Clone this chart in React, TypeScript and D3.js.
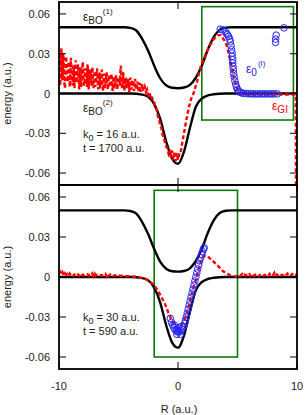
import React from "react";
import * as d3 from "d3";

type P = [number, number];

const xTicks = [-10, 0, 10];
const yTicks = [-0.06, -0.03, 0, 0.03, 0.06];
const yTickLabels = ["-0.06", "-0.03", "0", "0.03", "0.06"];

// Born-Oppenheimer surfaces
const eBO1: P[] = [[-10,0.05],[-4.5,0.05],[-4,0.0495],[-3.5,0.0475],[-3,0.041],[-2.5,0.032],[-2,0.021],[-1.5,0.0115],[-1,0.0062],[-0.5,0.0043],[0,0.004],[0.5,0.0045],[1,0.0065],[1.5,0.012],[2,0.021],[2.5,0.033],[3,0.0425],[3.5,0.048],[4,0.0497],[4.5,0.05],[10,0.05]];
const eBO2: P[] = [[-10,0],[-4,0],[-3,-0.0008],[-2.5,-0.0025],[-2,-0.008],[-1.5,-0.019],[-1,-0.036],[-0.5,-0.049],[0,-0.053],[0.5,-0.044],[1,-0.026],[1.5,-0.010],[2,-0.0038],[2.5,-0.0015],[3,-0.0006],[4,0],[10,0]];

// top panel (k0 = 16, t = 1700)
const giTopNoise: number[] = [0.030,0.006,0.034,0.010,0.026,0.004,0.028,0.012,0.024,0.005,0.027,0.009,0.021,0.004,0.025,0.011,0.022,0.003,0.020,0.008,0.024,0.006,0.019,0.010,0.022,0.003,0.018,0.007,0.020,0.004,0.017,0.009,0.019,0.003,0.016,0.006,0.018,0.002,0.015,0.007,0.016,0.003,0.014,0.006,0.015,0.002,0.013,0.005,0.014,0.003,0.012,0.006,0.021,0.004,0.016,0.002,0.012,0.005,0.011,0.001,0.012,0.004,0.010,0.002,0.011,0.003,0.009,0.001,0.008,0.002,0.007];
const giTopNoiseR0 = -10;
const giTopNoise2: number[] = [0.018,0.022,0.012,0.030,0.008,0.020,0.015,0.009,0.022,0.013,0.017,0.006,0.019,0.014,0.008,0.018,0.010,0.015,0.005,0.017,0.012,0.009,0.016,0.005,0.014,0.011,0.016,0.006,0.013,0.010,0.005,0.014,0.009,0.012,0.004,0.013,0.008,0.011,0.004,0.012,0.009,0.007,0.011,0.005,0.010,0.008,0.004,0.010,0.007,0.009,0.012,0.016,0.010,0.008,0.006,0.010,0.004,0.008,0.006,0.009,0.003,0.007,0.005,0.008,0.003,0.006,0.004,0.006,0.002,0.005];
const giTopNoise2R0 = -9.95;
const giTopNoiseStep = 0.1;
const giTopRest: P[] = [[-2.9,0.002],[-2.8,0.005],[-2.7,0.001],[-2.6,0.003],[-2.5,-0.001],[-2.4,0.001],[-2.3,-0.003],[-2.2,-0.002],[-2.1,-0.006],[-2.0,-0.006],[-1.9,-0.011],[-1.8,-0.012],[-1.7,-0.017],[-1.6,-0.019],[-1.5,-0.024],[-1.4,-0.026],[-1.3,-0.031],[-1.2,-0.033],[-1.1,-0.037],[-1.0,-0.040],[-0.9,-0.041],[-0.8,-0.045],[-0.7,-0.042],[-0.6,-0.048],[-0.5,-0.043],[-0.4,-0.050],[-0.3,-0.044],[-0.2,-0.051],[-0.1,-0.045],[0.0,-0.050],[0.1,-0.046],[0.2,-0.046],[0.3,-0.040],[0.5,-0.030],[0.7,-0.020],[0.9,-0.011],[1.1,-0.004],[1.3,0.0],[1.6,0.009],[1.9,0.020],[2.2,0.027],[2.6,0.035],[3.0,0.041],[3.4,0.044],[3.6,0.044],[3.9,0.040],[4.1,0.036],[4.4,0.025],[4.7,0.012],[5.0,0.003],[5.2,0.0002],[5.5,-0.0006],[6,-0.0008],[7,-0.0008],[8,-0.0008],[9,-0.0008],[9.9,-0.0008],[9.92,-0.1]];
const e0Top: P[] = [[3.55,0.0485],[3.75,0.048],[3.95,0.047],[4.05,0.0455],[4.15,0.0445],[4.25,0.043],[4.35,0.041],[4.4,0.039],[4.45,0.036],[4.5,0.033],[4.55,0.0305],[4.55,0.028],[4.6,0.0255],[4.6,0.023],[4.62,0.0205],[4.65,0.018],[4.68,0.015],[4.72,0.0125],[4.78,0.0095],[4.85,0.007],[4.92,0.0048],[5.0,0.003],[5.1,0.0018],[5.2,0.001],[5.35,0.0004],[5.5,0.0001],[5.7,0],[5.9,-0.0002],[6.1,-0.0002],[6.3,-0.0003],[6.5,-0.0003],[6.7,-0.0003],[6.9,-0.0003],[7.1,-0.0003],[7.3,-0.0003],[7.5,-0.0003],[7.7,-0.0003],[7.9,-0.0003],[8.1,-0.0003],[8.35,-0.0003],[8.2,0.0385],[8.2,0.041],[8.25,0.044],[8.9,0.0495]];
const boxTop = { r0: 2, r1: 9.7, e0: -0.02, e1: 0.0655 };

// bottom panel (k0 = 30, t = 590)
const giBotNoiseL: number[] = [0.0030,0.0040,0.0018,0.0035,0.0012,0.0028,0.0015,0.0022,0.0008,0.0025,0.0012,0.0020,0.0010,0.0018,0.0022,0.0012,0.0019,0.0010,0.0024,0.0014,0.0018,0.0011,0.0017,0.0013,0.0020,0.0009,0.0016,0.0012,0.0026,0.0006,0.0024,0.0010,0.0017,0.0012,0.0015,0.0010,0.0014,0.0011,0.0016,0.0023,0.0007,0.0025,0.0009,0.0019,0.0011,0.0015,0.0009,0.0013,0.0010,0.0012,0.0009,0.0011,0.0008,0.0009,0.0007,0.0007];
const giBotNoiseLR0 = -10;
const giBotMid: P[] = [[-4.2,0.0006],[-3.8,0.0004],[-3.4,0.0],[-3.0,-0.0008],[-2.6,-0.002],[-2.3,-0.004],[-2.0,-0.0062],[-1.7,-0.010],[-1.4,-0.015],[-1.1,-0.020],[-0.8,-0.027],[-0.5,-0.033],[-0.3,-0.036],[-0.1,-0.038],[0.1,-0.038],[0.3,-0.036],[0.5,-0.0335],[0.7,-0.028],[0.9,-0.022],[1.1,-0.015],[1.3,-0.008],[1.5,-0.002],[1.7,0.005],[1.9,0.011],[2.1,0.015],[2.3,0.016],[2.5,0.0155],[2.8,0.013],[3.1,0.0105],[3.4,0.008],[3.7,0.005],[4.0,0.003],[4.4,0.0013],[4.8,0.0005]];
const giBotNoiseR: number[] = [0.0008,0.0012,0.0006,0.0015,0.0022,0.0010,0.0018,0.0009,0.0016,0.0011,0.0020,0.0008,0.0014,0.0024,0.0009,0.0017,0.0012,0.0019,0.0007,0.0015,0.0013,0.0021,0.0010,0.0016,0.0012,0.0018,0.0011,0.0023,0.0009,0.0017,0.0014,0.0030,0.0010,0.0019,0.0013,0.0017,0.0008,0.0016,0.0012,0.0020,0.0010,0.0018,0.0026,0.0011,0.0017,0.0013,0.0021,0.0012,0.0019,0.0015,0.0022];
const giBotNoiseRR0 = 5;
const noiseStep = 0.1;
const e0Bot: P[] = [[-0.65,-0.031],[-0.55,-0.034],[-0.45,-0.036],[-0.35,-0.038],[-0.25,-0.0395],[-0.15,-0.0405],[-0.05,-0.041],[0.05,-0.0412],[0.15,-0.041],[0.25,-0.0402],[0.35,-0.039],[0.45,-0.0372],[0.55,-0.035],[0.62,-0.0325],[0.7,-0.030],[0.78,-0.027],[0.86,-0.024],[0.94,-0.021],[1.02,-0.018],[1.1,-0.015],[1.18,-0.012],[1.26,-0.009],[1.34,-0.006],[1.42,-0.003],[1.5,0.0],[1.58,0.003],[1.66,0.006],[1.74,0.009],[1.82,0.012],[1.9,0.0145],[1.98,0.017],[2.06,0.019],[2.14,0.021],[2.2,0.022],[-0.3,-0.036],[0.0,-0.038],[0.3,-0.037],[-0.1,-0.043],[0.2,-0.043]];
const boxBot = { r0: -2, r1: 5, e0: -0.06, e1: 0.065 };

const seq = (vals: number[], r0: number, step: number): P[] => vals.map((v, i) => [r0 + i * step, v]);

const giTop: P[] = [
  ...[...seq(giTopNoise, giTopNoiseR0, giTopNoiseStep), ...seq(giTopNoise2, giTopNoise2R0, giTopNoiseStep)].sort((a, b) => a[0] - b[0]),
  ...giTopRest,
];
const giBot: P[] = [...seq(giBotNoiseL, giBotNoiseLR0, noiseStep), ...giBotMid, ...seq(giBotNoiseR, giBotNoiseRR0, noiseStep)];

const FONT = "Liberation Sans, Arial, Helvetica, sans-serif";
const X0 = 59, X1 = 297;
const x = d3.scaleLinear().domain([-10, 10]).range([X0, X1]);

function Panel({ top, bottom, id, gi, e0, box, k0, t, showLabels, showX }: any) {
  const y = d3.scaleLinear().domain([-0.069, 0.069]).range([bottom, top]);
  const smooth = d3.line<P>().x(d => x(d[0])).y(d => y(d[1])).curve(d3.curveMonotoneX);
  const lin = d3.line<P>().x(d => x(d[0])).y(d => y(d[1]));
  const tl = 7;
  const lx = 83;
  return (
    <g>
      <defs>
        <clipPath id={id}>
          <rect x={X0} y={top} width={X1 - X0} height={bottom - top} />
        </clipPath>
      </defs>
      <g clipPath={`url(#${id})`}>
        <rect x={x(box.r0)} y={y(box.e1)} width={x(box.r1) - x(box.r0)} height={y(box.e0) - y(box.e1)} fill="none" stroke="#0b780b" strokeWidth={1.6} />
        <path d={smooth(eBO1) || ""} fill="none" stroke="#000" strokeWidth={2.4} />
        <path d={smooth(eBO2) || ""} fill="none" stroke="#000" strokeWidth={2.4} />
        <path d={lin(gi) || ""} fill="none" stroke="#ff0000" strokeWidth={2.4} strokeDasharray="4,2.5" />
        {e0.map((d: P, i: number) => (
          <circle key={i} cx={x(d[0])} cy={y(d[1])} r={3.3} fill="none" stroke="#2626f0" strokeWidth={1} />
        ))}
      </g>
      {yTicks.map((v, i) => (
        <g key={i}>
          <line x1={X0} x2={X0 + tl} y1={y(v)} y2={y(v)} stroke="#000" strokeWidth={1} />
          <line x1={X1} x2={X1 - tl} y1={y(v)} y2={y(v)} stroke="#000" strokeWidth={1} />
          <text x={50} y={y(v) + 4} textAnchor="end" fontSize={11} fontFamily={FONT} fill="#222">{yTickLabels[i]}</text>
        </g>
      ))}
      {xTicks.map((v, i) => (
        <g key={i}>
          <line x1={x(v)} x2={x(v)} y1={top} y2={top + tl} stroke="#000" strokeWidth={1} />
          <line x1={x(v)} x2={x(v)} y1={bottom} y2={bottom - tl} stroke="#000" strokeWidth={1} />
          {showX && (
            <text x={x(v)} y={bottom + 21} textAnchor="middle" fontSize={11} fontFamily={FONT} fill="#222">{String(v)}</text>
          )}
        </g>
      ))}
      <rect x={X0} y={top} width={X1 - X0} height={bottom - top} fill="none" stroke="#000" strokeWidth={1.8} />
      <text transform={`translate(11,${y(0)}) rotate(-90)`} textAnchor="middle" fontSize={11} fontFamily={FONT} fill="#222">energy (a.u.)</text>
      {showLabels && (
        <g fontFamily={FONT} fill="#222">
          <text x={lx} y={top + 19} fontSize={12}>ε<tspan fontSize={10} dy={3}>BO</tspan><tspan fontSize={8} dy={-10}>(1)</tspan></text>
          <text x={lx} y={top + 110} fontSize={12}>ε<tspan fontSize={10} dy={3}>BO</tspan><tspan fontSize={8} dy={-10}>(2)</tspan></text>
          <text x={246} y={top + 71} fontSize={12} fill="#2323e0">ε<tspan fontSize={10} dy={3}>0</tspan><tspan fontSize={8} dy={-10} dx={1}>(I)</tspan></text>
          <text x={272} y={top + 108} fontSize={12} fill="#ff0000">ε<tspan fontSize={10} dy={3}>GI</tspan></text>
        </g>
      )}
      <g fontFamily={FONT} fill="#222" fontSize={11}>
        <text x={lx} y={top + 136}>k<tspan fontSize={9} dy={3}>0</tspan><tspan dy={-3}> = {k0} a.u.</tspan></text>
        <text x={lx} y={top + 150}>t = {t} a.u.</text>
      </g>
    </g>
  );
}

export default function App() {
  return (
    <svg width={305} height={415} style={{ position: "absolute", left: 0, top: 0, background: "#fff" }}>
      <rect width={305} height={415} fill="#fff" />
      <Panel top={2} bottom={185} id="c1" gi={giTop} e0={e0Top} box={boxTop} k0={16} t={1700} showLabels={true} showX={false} />
      <Panel top={185} bottom={369} id="c2" gi={giBot} e0={e0Bot} box={boxBot} k0={30} t={590} showLabels={false} showX={true} />
      <text x={179} y={413} textAnchor="middle" fontSize={11} fontFamily={FONT} fill="#222">R (a.u.)</text>
    </svg>
  );
}
